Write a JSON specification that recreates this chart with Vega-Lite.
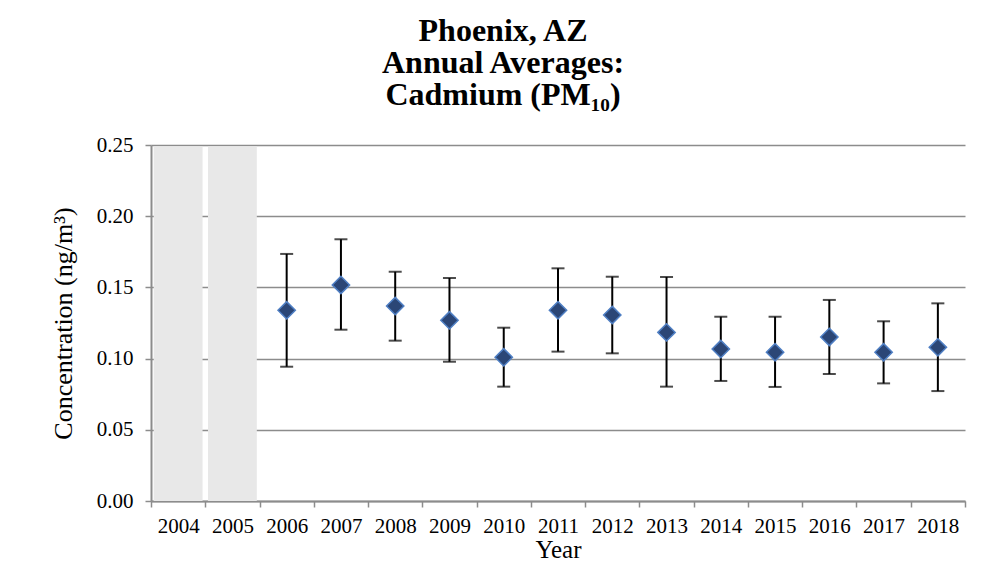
{
  "$schema": "https://vega.github.io/schema/vega-lite/v6.json",
  "autosize": {"type": "none"},
  "padding": {"left": 151, "top": 145, "right": 32, "bottom": 62},
  "width": 814,
  "height": 356,
  "background": "white",
  "title": {
    "text": ["Phoenix, AZ", "Annual Averages:", "Cadmium (PM₁₀)"],
    "font": "Liberation Serif",
    "fontWeight": "bold",
    "fontSize": 32,
    "lineHeight": 32,
    "color": "black",
    "anchor": "middle",
    "dx": -55,
    "offset": 22
  },
  "data": {
    "values": [
      {"year": "2004", "shade": 0.249},
      {"year": "2005", "shade": 0.249},
      {"year": "2006", "mean": 0.1339, "lower": 0.0943, "upper": 0.1735},
      {"year": "2007", "mean": 0.1517, "lower": 0.1203, "upper": 0.1838},
      {"year": "2008", "mean": 0.1369, "lower": 0.1126, "upper": 0.1610},
      {"year": "2009", "mean": 0.1269, "lower": 0.0978, "upper": 0.1566},
      {"year": "2010", "mean": 0.1009, "lower": 0.0803, "upper": 0.1217},
      {"year": "2011", "mean": 0.1339, "lower": 0.1049, "upper": 0.1634},
      {"year": "2012", "mean": 0.1306, "lower": 0.1037, "upper": 0.1575},
      {"year": "2013", "mean": 0.1184, "lower": 0.0803, "upper": 0.1573},
      {"year": "2014", "mean": 0.1067, "lower": 0.0843, "upper": 0.1294},
      {"year": "2015", "mean": 0.1044, "lower": 0.0801, "upper": 0.1294},
      {"year": "2016", "mean": 0.1152, "lower": 0.0892, "upper": 0.1412},
      {"year": "2017", "mean": 0.1044, "lower": 0.0826, "upper": 0.1262},
      {"year": "2018", "mean": 0.1079, "lower": 0.0772, "upper": 0.1388}
    ]
  },
  "encoding": {
    "x": {
      "field": "year",
      "type": "ordinal",
      "scale": {
        "domain": ["2004","2005","2006","2007","2008","2009","2010","2011","2012","2013","2014","2015","2016","2017","2018"],
        "paddingInner": 0,
        "paddingOuter": 0
      },
      "axis": {
        "title": "Year",
        "labelAngle": 0,
        "tickBand": "extent",
        "grid": false,
        "domainColor": "#8c8c8c",
        "domainWidth": 2,
        "tickColor": "#8c8c8c",
        "tickWidth": 1.5,
        "tickSize": 6,
        "labelPadding": 8,
        "labelFont": "Liberation Serif",
        "labelFontSize": 21,
        "labelColor": "black",
        "titleFont": "Liberation Serif",
        "titleFontSize": 25,
        "titleFontWeight": "normal",
        "titleColor": "black",
        "titlePadding": 1
      }
    }
  },
  "layer": [
    {
      "mark": {"type": "bar", "color": "#e8e8e8", "width": {"band": 0.9}},
      "encoding": {
        "y": {
          "field": "shade",
          "type": "quantitative",
          "scale": {"domain": [0, 0.25], "nice": false},
          "axis": {
            "title": "Concentration (ng/m³)",
            "values": [0, 0.05, 0.1, 0.15, 0.2, 0.25],
            "format": ".2f",
            "grid": true,
            "gridColor": "#8c8c8c",
            "gridWidth": 1.5,
            "domainColor": "#8c8c8c",
            "domainWidth": 2,
            "tickColor": "#8c8c8c",
            "tickWidth": 1.5,
            "tickSize": 6,
            "labelPadding": 12,
            "labelFont": "Liberation Serif",
            "labelFontSize": 21,
            "labelColor": "black",
            "titleFont": "Liberation Serif",
            "titleFontSize": 26,
            "titleFontWeight": "normal",
            "titleColor": "black",
            "titlePadding": 20
          }
        }
      }
    },
    {
      "mark": {"type": "rule", "color": "black", "strokeWidth": 2},
      "encoding": {
        "y": {"field": "lower", "type": "quantitative"},
        "y2": {"field": "upper"}
      }
    },
    {
      "mark": {"type": "tick", "color": "black", "size": 13, "thickness": 2},
      "encoding": {"y": {"field": "lower", "type": "quantitative"}}
    },
    {
      "mark": {"type": "tick", "color": "black", "size": 13, "thickness": 2},
      "encoding": {"y": {"field": "upper", "type": "quantitative"}}
    },
    {
      "mark": {"type": "point", "shape": "diamond", "filled": true, "size": 300, "fill": "#2b4676", "stroke": "#4f7fc4", "strokeWidth": 1.5, "opacity": 1},
      "encoding": {"y": {"field": "mean", "type": "quantitative"}}
    }
  ],
  "config": {
    "view": {"stroke": null}
  }
}
